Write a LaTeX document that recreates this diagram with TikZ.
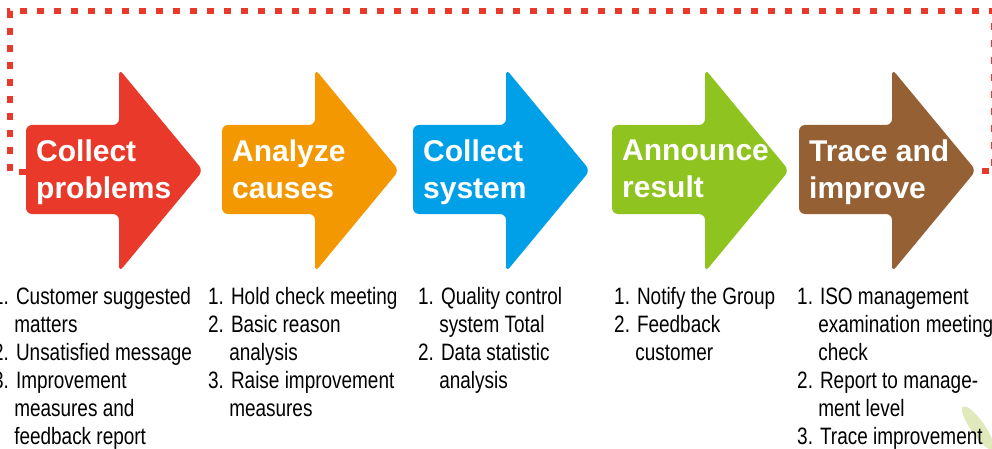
\documentclass[tikz,border=0pt]{standalone}
\usepackage{fontspec}
\setmainfont{Liberation Sans}
\newfontfamily\narrowfont{Liberation Sans}[FakeStretch=0.80]

\definecolor{procred}{HTML}{E8392A}
\definecolor{procamber}{HTML}{F39800}
\definecolor{procblue}{HTML}{00A0E9}
\definecolor{procgreen}{HTML}{8FC31F}
\definecolor{procbrown}{HTML}{956134}
\definecolor{leafgreen}{HTML}{B9CF6A}

\tikzset{
  procarrow/.style={rounded corners=6pt},
  proctitle/.style={anchor=north west, inner sep=0pt, align=left, text=white,
    font=\fontsize{30}{37}\selectfont\bfseries},
  proclist/.style={anchor=north west, inner sep=0pt, align=left,
    font=\narrowfont\fontsize{23.7}{28}\selectfont},
  frameline/.style={procred, line width=6pt, dash pattern=on 7pt off 10pt},
}
% indent for the wrapped lines of an item
\newcommand\contline{\hphantom{1.}\ }

\begin{document}
\begin{tikzpicture}[x=1pt, y=-1pt]
\useasboundingbox (0,0) rectangle (992,449);
\clip (0,0) rectangle (992,449);

% leaf in the corner
\fill[leafgreen, opacity=.45, rotate around={-55:(978,428)}] (978,428) ellipse (26 and 7);

% dashed frame round the process
\draw[frameline] (26,172) -- (9.5,172) -- (9.5,11.5) -- (994,11.5) -- (994,171) -- (975,171);

% the five arrows
\foreach \L/\col/\nm/\ttl in {26/procred/a/{Collect\\problems},
                             222/procamber/b/{Analyze\\causes},
                             413/procblue/c/{Collect\\system},
                             612/procgreen/d/{Announce\\result},
                             799/procbrown/e/{Trace and\\improve}}{
  \fill[\col, procarrow] (\L,125) -- (\L+93,125) -- (\L+93,69) -- (\L+177,170.5)
        -- (\L+93,272) -- (\L+93,214) -- (\L,214) -- cycle;
  \node[proctitle] (t\nm) at (\L+10,140) {\ttl};
}

% what each step does
\node[proclist] (la) at (-7,287.5) {1. Customer suggested\\\contline matters\\
  2. Unsatisfied message\\3. Improvement\\\contline measures and\\\contline feedback report};
\node[proclist] (lb) at (208,287.5) {1. Hold check meeting\\2. Basic reason\\
  \contline analysis\\3. Raise improvement\\\contline measures};
\node[proclist] (lc) at (418,287.5) {1. Quality control\\\contline system Total\\
  2. Data statistic\\\contline analysis};
\node[proclist] (ld) at (614,287.5) {1. Notify the Group\\2. Feedback\\\contline customer};
\node[proclist] (le) at (797,287.5) {1. ISO management\\\contline examination meeting\\
  \contline check\\2. Report to manage-\\\contline ment level\\3. Trace improvement};
\end{tikzpicture}
\end{document}
